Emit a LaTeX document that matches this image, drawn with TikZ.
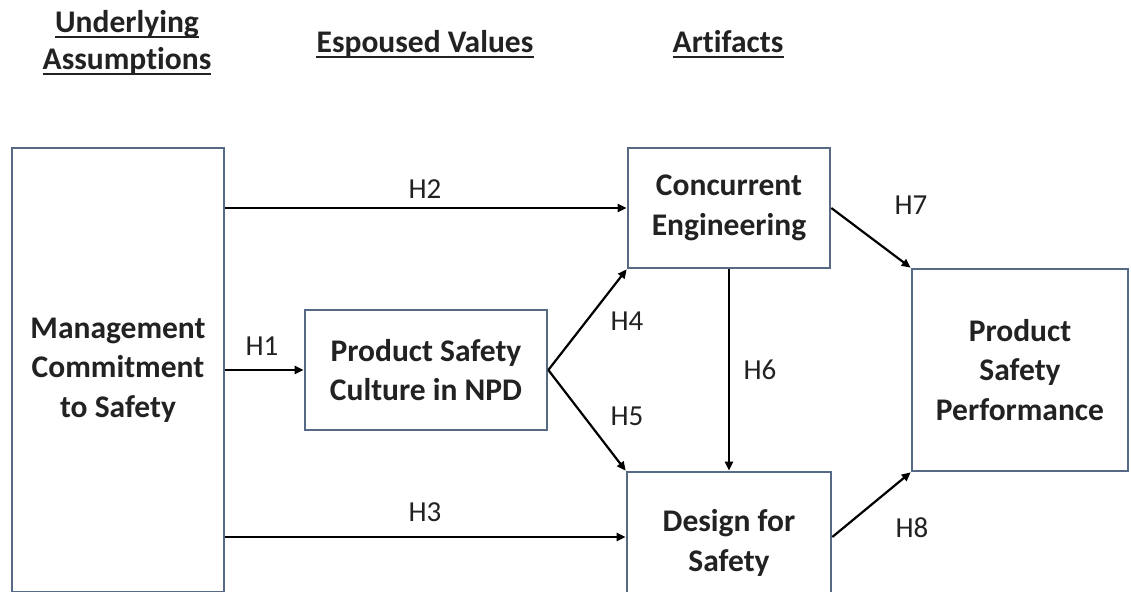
\documentclass[tikz,border=0pt]{standalone}
\usepackage{fontspec}
\setmainfont{Carlito}[Ligatures=NoCommon]
\usetikzlibrary{arrows.meta}
\definecolor{boxline}{HTML}{566A86}
\definecolor{txt}{HTML}{222222}
\begin{document}
\begin{tikzpicture}[x=1pt,y=-1pt,
  box/.style={draw=boxline,line width=2.6pt,fill=white,align=center,inner sep=0pt,
    text=txt,font=\bfseries\fontsize{31.5}{39.5}\selectfont},
  hdr/.style={anchor=base,inner sep=0pt,text=txt,font=\bfseries\fontsize{31.5}{36}\selectfont},
  ul/.style={line width=2.4pt,draw=txt},
  lbl/.style={text=txt,inner sep=0pt,font=\fontsize{29}{34}\selectfont},
  conn/.style={line width=2.2pt,draw=black,-{Triangle[length=9pt,width=8pt]}}]
\useasboundingbox (0,0) rectangle (1131,591);
\clip (0,0) rectangle (1131,591);
\fill[white] (0,0) rectangle (1131,591);
% headers
\node[hdr] (hua) at (127,33) {Underlying};
\node[hdr] (hub) at (127,70) {Assumptions};
\node[hdr] (hev) at (425,53) {Espoused Values};
\node[hdr] (har) at (728,53) {Artifacts};
\foreach \n in {hua,hub,hev,har}
  \draw[ul] ([yshift=-4pt]\n.base west) -- ([yshift=-4pt]\n.base east);
% boxes
\node[box,minimum width=212pt,minimum height=444pt] (mgmt) at (118,370) {Management\\Commitment\\to Safety};
\node[box,minimum width=242pt,minimum height=120pt] (psc) at (426,370) {Product Safety\\Culture in NPD};
\node[box,minimum width=202pt,minimum height=120pt] (ce) at (729,208) {Concurrent\\Engineering};
\node[box,minimum width=204pt,minimum height=130pt,text depth=0pt] (dfs) at (729,537) {\raisebox{20pt}{\begin{tabular}{@{}c@{}}Design for\\Safety\end{tabular}}};
\node[box,minimum width=216pt,minimum height=202pt] (psp) at (1020,370) {Product\\Safety\\Performance};
% connectors
\draw[conn] (mgmt.east |- ce.west) -- (ce.west);
\draw[conn] (mgmt.east |- psc.west) -- (psc.west);
\draw[conn] (mgmt.east |- dfs.west) -- (dfs.west);
\draw[conn] (psc.east) -- (ce.south west);
\draw[conn] (psc.east) -- (dfs.north west);
\draw[conn] (ce.south) -- (dfs.north);
\draw[conn] (ce.east) -- (psp.north west);
\draw[conn] (dfs.east) -- (psp.south west);
% labels
\node[lbl] (l2) at (425,189) {H2};
\node[lbl] (l1) at (262,346) {H1};
\node[lbl] (l3) at (425,512) {H3};
\node[lbl] (l4) at (627,321) {H4};
\node[lbl] (l5) at (627,416) {H5};
\node[lbl] (l6) at (760,370) {H6};
\node[lbl] (l7) at (911,205) {H7};
\node[lbl] (l8) at (912,528) {H8};
\end{tikzpicture}
\end{document}
